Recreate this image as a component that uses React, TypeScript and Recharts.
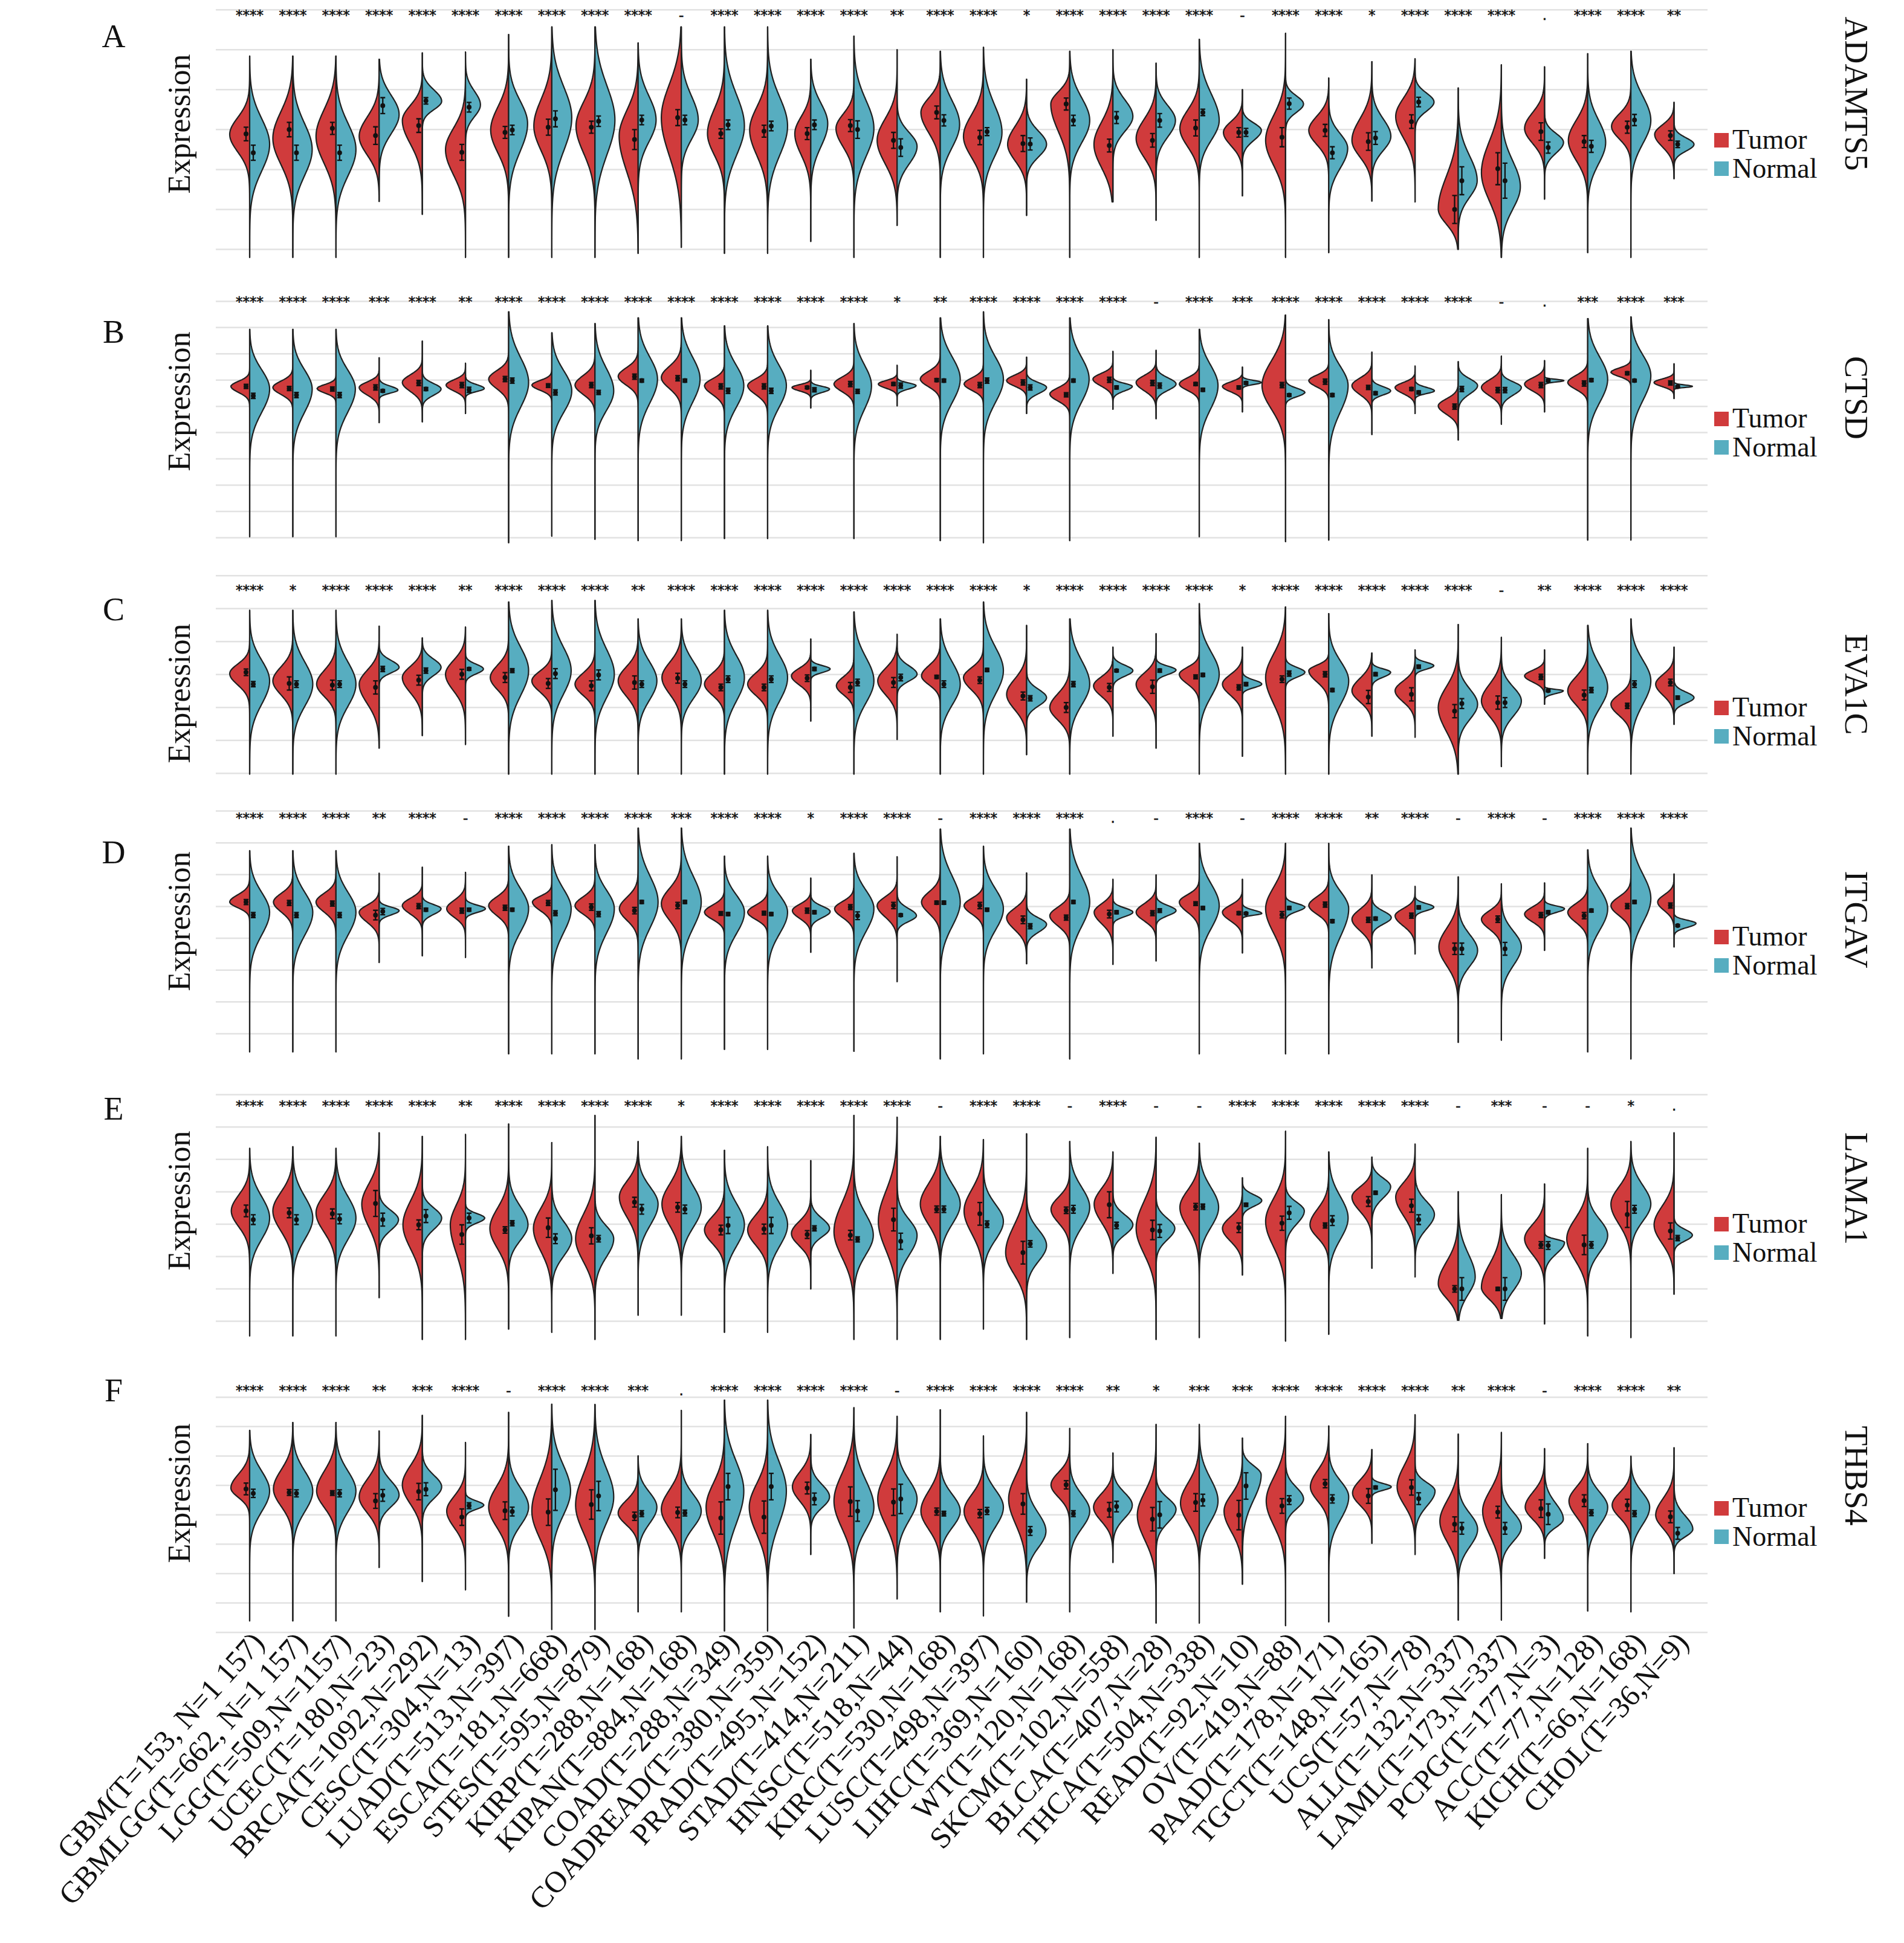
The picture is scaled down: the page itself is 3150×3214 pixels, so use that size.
import React from "react";
import { ComposedChart, Bar, XAxis, YAxis, ReferenceLine } from "recharts";

const cancers = [
  "GBM(T=153, N=1 157)", "GBMLGG(T=662, N=1 157)", "LGG(T=509,N=1157)", "UCEC(T=180,N=23)",
  "BRCA(T=1092,N=292)", "CESC(T=304,N=13)", "LUAD(T=513,N=397)", "ESCA(T=181,N=668)",
  "STES(T=595,N=879)", "KIRP(T=288,N=168)", "KIPAN(T=884,N=168)", "COAD(T=288,N=349)",
  "COADREAD(T=380,N=359)", "PRAD(T=495,N=152)", "STAD(T=414,N=211)", "HNSC(T=518,N=44)",
  "KIRC(T=530,N=168)", "LUSC(T=498,N=397)", "LIHC(T=369,N=160)", "WT(T=120,N=168)",
  "SKCM(T=102,N=558)", "BLCA(T=407,N=28)", "THCA(T=504,N=338)", "READ(T=92,N=10)",
  "OV(T=419,N=88)", "PAAD(T=178,N=171)", "TGCT(T=148,N=165)", "UCS(T=57,N=78)",
  "ALL(T=132,N=337)", "LAML(T=173,N=337)", "PCPG(T=177,N=3)", "ACC(T=77,N=128)",
  "KICH(T=66,N=168)", "CHOL(T=36,N=9)",
];

// range = [min, max] of each violin; halves = [bulge bottom, mode, bulge top, relative width, mean, error]

// ADAMTS5
const adamts5Sig = ["****","****","****","****","****","****","****","****","****","****","-","****","****","****","****","**","****","****","*","****","****","****","****","-","****","****","*","****","****","****",".","****","****","**"];
const adamts5Range = [
  [-0.2,4.84],[-0.2,4.84],[-0.2,4.84],[1.2,4.76],[0.88,4.92],[-0.2,4.94],[-0.2,5.38],[-0.2,5.57],[-0.2,5.57],[-0.1,5.17],
  [0.05,5.57],[-0.1,5.57],[-0.1,5.57],[0.2,4.76],[-0.2,5.34],[0.6,5.0],[-0.2,4.96],[-0.2,5.06],[0.85,4.26],[-0.2,4.96],
  [1.19,5.0],[0.73,4.66],[-0.2,5.26],[1.34,4.0],[-0.2,5.41],[-0.08,4.29],[1.21,4.7],[1.19,4.77],[0,4.04],[-0.2,4.62],
  [1.26,4.57],[-0.08,4.9],[-0.2,4.96],[1.77,3.68],
];
const adamts5Tumor = [
  [1.82,2.88,3.9,1,2.89,0.17],[1.2,2.78,4.4,1,3.0,0.18],[1.2,2.83,4.45,1,3.03,0.15],[1.7,2.83,4.0,1,2.85,0.22],
  [1.8,3.23,4.14,1,3.1,0.17],[0.96,2.5,3.8,1,2.43,0.2],[1.6,2.99,4.39,0.9,2.93,0.15],[1.6,3.09,4.7,0.9,3.06,0.2],
  [1.44,3.09,4.55,0.95,3.06,0.15],[0.67,2.84,4.39,0.95,2.75,0.25],[0.98,3.3,5.32,1,3.3,0.2],[1.6,2.9,4.39,0.85,2.9,0.12],
  [1.44,2.99,4.39,0.9,2.96,0.15],[1.6,2.9,3.93,0.8,2.9,0.15],[1.9,3.03,3.9,0.9,3.1,0.15],[1.31,2.73,4.04,1,2.73,0.2],
  [2.2,3.43,4.3,0.97,3.43,0.16],[1.56,2.83,4.14,1,2.8,0.18],[1.62,2.63,3.74,0.95,2.65,0.2],[1.97,3.64,4.39,0.95,3.64,0.15],
  [1.21,2.63,3.99,0.95,2.6,0.16],[1.62,2.78,3.94,1,2.73,0.17],[1.92,3.03,4.14,0.97,3.04,0.2],[2.12,2.93,3.59,0.95,2.93,0.12],
  [1.21,2.73,4.24,1,2.81,0.24],[2.12,2.98,3.84,1,2.98,0.15],[1.72,2.73,4.04,1,2.7,0.22],[2.02,3.33,4.44,0.97,3.2,0.17],
  [0.1,1.01,2.98,1,1.0,0.35],[0.2,1.92,3.84,1,2.02,0.4],[2.12,3.03,3.99,1,2.95,0.22],[1.52,2.73,3.94,0.97,2.7,0.15],
  [2.32,3.08,3.84,0.97,3.06,0.15],[2.12,2.88,3.46,0.97,2.85,0.12],
];
const adamts5Normal = [
  [1.0,2.63,4.2,1,2.42,0.19],[0.9,2.5,4.1,0.97,2.42,0.19],[0.9,2.5,4.1,1,2.42,0.19],[2.2,3.38,4.55,1,3.6,0.2],
  [3.2,3.71,4.4,0.97,3.72,0.08],[2.9,3.62,4.45,0.75,3.56,0.12],[1.44,3.15,4.55,0.95,2.99,0.12],[1.29,3.3,5.17,1,3.27,0.2],
  [1.13,3.24,5.32,1,3.21,0.13],[1.91,3.24,4.7,0.9,3.24,0.12],[2.06,3.24,4.7,0.85,3.24,0.12],[1.29,3.09,5.01,1,3.12,0.12],
  [1.29,3.09,4.86,1,3.09,0.12],[1.75,3.15,4.39,0.85,3.12,0.12],[1.3,3.03,4.75,1,3.0,0.22],[1.5,2.58,3.43,1,2.55,0.22],
  [1.7,3.13,4.6,0.97,3.23,0.14],[1.46,2.93,4.6,0.93,2.95,0.1],[1.87,2.63,3.43,1,2.64,0.15],[1.87,3.23,4.6,1,3.23,0.13],
  [2.42,3.33,4.34,1,3.3,0.15],[2.22,3.23,4.14,0.97,3.23,0.17],[2.02,3.23,4.85,1,3.43,0.08],[2.37,2.98,3.43,0.95,2.93,0.1],
  [3.13,3.64,4.14,0.9,3.65,0.14],[1.31,2.53,3.43,0.95,2.42,0.15],[1.97,2.83,3.89,0.95,2.79,0.16],[3.13,3.69,4.24,0.95,3.69,0.12],
  [0.71,1.72,3.23,0.95,1.72,0.35],[0.2,1.57,3.13,0.95,1.72,0.44],[2.02,2.68,3.23,0.95,2.55,0.14],[1.36,2.68,4.04,0.9,2.58,0.15],
  [1.82,3.23,4.7,1,3.24,0.14],[2.22,2.63,3.03,1,2.63,0.08],
];

// CTSD
const ctsdSig = ["****","****","****","***","****","**","****","****","****","****","****","****","****","****","****","*","**","****","****","****","****","-","****","***","****","****","****","****","****","-",".","***","****","***"];
const ctsdRange = [
  [0.04,7.93],[0.04,7.93],[0.04,7.93],[4.38,6.85],[4.41,7.48],[4.73,6.64],[-0.19,8.6],[0.06,7.8],[-0.06,8.15],[-0.11,8.37],
  [-0.11,8.37],[-0.03,8.06],[-0.03,8.06],[4.94,6.37],[-0.03,8.15],[5.02,6.56],[-0.11,8.37],[-0.19,8.6],[4.73,6.87],[-0.11,8.37],
  [4.89,7.09],[4.53,7.13],[0.04,7.93],[4.79,6.49],[-0.15,8.47],[-0.09,8.3],[3.93,7.06],[4.73,6.53],[3.72,6.7],[4.32,6.91],
  [4.79,6.74],[-0.09,8.34],[-0.09,8.4],[5.3,6.62],
];
const ctsdTumor = [
  [5.21,5.76,6.23,0.94,5.76,0.08],[5.08,5.72,6.3,1,5.68,0.08],[5.27,5.68,6.04,0.95,5.66,0.08],[5.02,5.72,6.23,1,5.72,0.1],
  [5.08,5.91,6.62,1,5.89,0.1],[5.27,5.81,6.3,0.97,5.81,0.1],[5.15,6.04,6.81,1,6.04,0.1],[5.34,5.81,6.23,1,5.79,0.07],
  [4.96,5.81,6.68,1,5.81,0.1],[5.34,6.14,6.93,1,6.13,0.1],[5.08,6.1,7.13,1,6.07,0.1],[4.96,5.79,6.42,1,5.76,0.1],
  [4.96,5.79,6.42,1,5.76,0.1],[5.4,5.72,5.98,0.94,5.72,0.05],[5.15,5.85,6.49,1,5.85,0.1],[5.47,5.85,6.17,0.94,5.85,0.06],
  [5.34,6.04,6.74,1,6.0,0.06],[5.27,5.85,6.42,0.97,5.81,0.1],[5.47,5.98,6.49,1,5.91,0.1],[4.83,5.47,6.04,1,5.44,0.08],
  [5.4,6.04,6.55,1,6.01,0.1],[5.15,5.91,6.55,1,5.89,0.1],[5.27,5.85,6.42,1,5.85,0.06],[5.27,5.76,6.17,1,5.72,0.06],
  [3.61,5.79,8.08,1.18,5.81,0.1],[5.4,5.98,6.49,1,5.94,0.1],[4.96,5.79,6.49,1,5.72,0.08],[5.15,5.72,6.17,1,5.66,0.06],
  [4.25,5.02,5.66,1,4.99,0.1],[4.96,5.72,6.42,1,5.62,0.1],[5.21,5.85,6.42,1,5.81,0.1],[5.27,5.91,6.55,1,5.87,0.1],
  [5.91,6.3,6.68,1,6.26,0.06],[5.53,5.91,6.23,1,5.89,0.08],
];
const ctsdNormal = [
  [3.49,5.66,7.45,1,5.4,0.1],[3.49,5.66,7.45,0.97,5.43,0.1],[3.49,5.66,7.45,0.97,5.43,0.1],[5.34,5.62,5.98,0.94,5.59,0.05],
  [5.08,5.66,6.17,0.94,5.66,0.06],[5.4,5.68,6.04,0.94,5.63,0.1],[3.61,5.91,8.21,1,5.98,0.1],[3.61,5.59,7.45,1,5.53,0.1],
  [3.74,5.59,7.7,0.94,5.53,0.08],[3.81,6.04,8.08,0.97,5.98,0.06],[3.87,6.04,8.08,0.94,5.98,0.06],[3.74,5.79,7.7,0.97,5.59,0.1],
  [3.74,5.79,7.7,0.94,5.59,0.1],[5.34,5.66,5.91,0.94,5.63,0.08],[3.61,5.79,7.7,0.88,5.57,0.08],[5.47,5.79,6.04,0.95,5.79,0.1],
  [3.87,6.04,8.08,1,5.98,0.06],[3.87,6.04,8.08,1,5.98,0.1],[5.15,5.72,6.17,1,5.72,0.1],[3.87,6.04,8.08,0.97,5.98,0.06],
  [5.34,5.76,6.04,0.97,5.72,0.06],[5.27,5.85,6.42,1,5.79,0.1],[3.61,5.79,7.7,0.94,5.63,0.06],[5.72,5.91,6.1,0.95,5.89,0.05],
  [5.15,5.53,5.91,0.97,5.43,0.05],[3.36,5.79,7.57,0.97,5.43,0.06],[5.21,5.59,5.98,0.94,5.5,0.06],[5.34,5.59,5.91,0.97,5.53,0.06],
  [5.02,5.79,6.42,0.97,5.66,0.1],[5.02,5.72,6.23,1,5.62,0.1],[5.85,5.98,6.1,0.97,5.98,0.04],[3.87,6.04,8.08,1,6.0,0.06],
  [3.87,6.17,8.08,1,5.98,0.05],[5.66,5.76,5.89,0.92,5.75,0.03],
];

// EVA1C
const eva1cSig = ["****","*","****","****","****","**","****","****","****","**","****","****","****","****","****","****","****","****","*","****","****","****","****","*","****","****","****","****","****","-","**","****","****","****"];
const eva1cRange = [
  [-0.02,4.95],[-0.02,4.95],[-0.02,4.95],[0.77,4.47],[1.15,4.11],[0.88,4.44],[-0.02,5.2],[-0.02,5.25],[-0.02,5.25],[-0.02,4.69],
  [-0.02,4.69],[-0.02,4.95],[-0.02,4.95],[1.59,4.08],[-0.02,4.9],[1.03,4.22],[-0.02,4.69],[-0.02,5.2],[0.57,4.49],[-0.02,4.69],
  [1.13,3.83],[0.77,4.24],[-0.02,5.15],[0.52,3.83],[-0.02,5.05],[-0.02,4.85],[1.13,3.65],[1.1,3.75],[-0.02,4.52],[0.21,4.13],
  [2.1,3.75],[-0.02,4.49],[-0.02,4.69],[1.49,3.83],
];
const eva1cTumor = [
  [2.2,3.03,3.73,1,3.07,0.1],[1.79,2.81,3.83,1,2.73,0.2],[1.79,2.71,3.73,0.97,2.68,0.15],[1.28,2.71,3.73,1,2.61,0.2],
  [1.79,2.91,3.73,1,2.83,0.15],[1.79,3.01,4.03,1,3.01,0.15],[2.0,2.91,3.83,0.92,2.91,0.15],[2.0,2.81,3.52,1,2.73,0.15],
  [1.89,2.71,3.52,1,2.66,0.15],[1.69,2.81,3.83,1,2.76,0.2],[1.69,2.91,4.03,0.97,2.89,0.15],[1.89,2.71,3.52,1,2.61,0.1],
  [1.89,2.71,3.52,1,2.61,0.1],[2.3,2.96,3.52,0.97,2.89,0.1],[2.0,2.66,3.32,0.88,2.61,0.15],[1.79,2.81,3.73,0.97,2.76,0.15],
  [2.3,2.96,3.73,0.94,2.93,0.05],[2.0,2.91,3.63,1,2.83,0.1],[1.28,2.4,3.52,1,2.35,0.12],[1.08,2.0,3.01,1,2.0,0.15],
  [1.89,2.66,3.32,0.97,2.61,0.12],[1.69,2.71,3.52,1,2.63,0.2],[2.3,3.01,3.52,1,2.93,0.06],[1.89,2.71,3.42,1,2.61,0.08],
  [0.98,2.91,4.64,1,2.86,0.1],[2.3,3.12,3.52,1,3.01,0.08],[1.69,2.51,3.42,1,2.32,0.2],[1.69,2.51,3.22,1,2.4,0.2],
  [0.26,2.0,3.52,1,1.89,0.2],[1.08,2.2,3.42,1,2.15,0.2],[2.51,2.96,3.37,1,2.93,0.08],[1.49,2.51,3.52,1,2.38,0.15],
  [1.28,2.1,2.81,1,2.05,0.08],[1.89,2.71,3.42,0.92,2.76,0.1],
];
const eva1cNormal = [
  [1.08,2.81,4.34,1,2.71,0.08],[1.08,2.71,4.34,1,2.71,0.1],[1.08,2.71,4.34,1,2.71,0.1],[2.81,3.22,3.73,1,3.17,0.08],
  [2.61,3.22,3.83,0.94,3.12,0.08],[2.81,3.17,3.52,0.9,3.17,0.04],[1.28,3.12,4.85,1,3.12,0.06],[1.38,3.12,4.85,0.97,3.03,0.15],
  [1.28,3.01,4.85,0.97,2.99,0.15],[1.38,2.81,4.24,0.94,2.71,0.1],[1.49,2.81,4.24,1,2.71,0.1],[1.18,2.91,4.54,1,2.86,0.1],
  [1.18,2.91,4.54,1,2.86,0.1],[2.91,3.17,3.42,0.97,3.17,0.05],[1.18,2.81,4.54,1,2.76,0.1],[2.51,3.01,3.63,1,2.91,0.1],
  [1.18,2.71,4.34,1,2.71,0.1],[1.38,3.12,4.85,1,3.14,0.05],[1.69,2.3,2.91,1,2.28,0.08],[1.18,2.71,4.44,1,2.71,0.08],
  [2.71,3.12,3.52,1,3.12,0.04],[2.81,3.14,3.42,1,3.12,0.05],[1.38,3.01,4.64,1,2.99,0.05],[2.45,2.71,3.01,0.97,2.71,0.05],
  [2.71,3.07,3.42,0.97,3.03,0.08],[1.08,2.81,4.24,1,2.53,0.05],[2.71,3.07,3.32,0.94,3.01,0.05],[3.01,3.27,3.52,0.94,3.24,0.05],
  [0.98,2.1,3.22,0.97,2.12,0.15],[1.08,2.2,3.22,1,2.15,0.15],[2.3,2.51,2.61,0.94,2.51,0.03],[1.08,2.61,4.24,1,2.53,0.08],
  [1.08,2.81,4.34,1,2.71,0.1],[1.89,2.3,2.71,1,2.3,0.05],
];

// ITGAV
const itgavSig = ["****","****","****","**","****","-","****","****","****","****","***","****","****","*","****","****","-","****","****","****",".","-","****","-","****","****","**","****","-","****","-","****","****","****"];
const itgavRange = [
  [-0.57,5.75],[-0.57,5.75],[-0.57,5.75],[2.24,5.04],[2.45,5.23],[2.4,5.07],[-0.63,5.89],[-0.63,5.94],[-0.63,5.94],[-0.79,6.46],
  [-0.79,6.46],[-0.49,5.58],[-0.49,5.58],[2.56,4.89],[-0.55,5.67],[1.64,5.56],[-0.79,6.43],[-0.63,5.89],[2.2,5.05],[-0.79,6.43],
  [2.18,4.85],[2.29,4.99],[-0.63,5.98],[2.54,4.85],[-0.63,5.98],[-0.63,5.98],[2.07,4.99],[2.51,4.63],[-0.27,4.93],[-0.2,4.71],
  [2.62,4.74],[-0.57,5.78],[-0.79,6.46],[2.73,5.02],
];
const itgavTumor = [
  [3.71,4.14,4.69,1,4.14,0.08],[3.38,4.14,4.8,0.97,4.11,0.08],[3.38,4.14,4.8,1,4.09,0.08],[3.05,3.82,4.36,1,3.73,0.15],
  [3.38,4.03,4.58,1,4.01,0.08],[3.27,3.93,4.58,0.94,3.87,0.08],[3.27,4.03,4.69,1,3.96,0.08],[3.49,4.14,4.58,0.97,4.11,0.08],
  [3.38,4.03,4.69,1,3.98,0.1],[3.05,3.93,4.8,0.94,3.87,0.1],[2.84,4.09,5.23,1,4.03,0.1],[3.27,3.82,4.36,1,3.78,0.06],
  [3.27,3.82,4.36,1,3.79,0.06],[3.27,3.87,4.36,0.92,3.87,0.08],[3.27,3.93,4.47,0.97,3.98,0.08],[3.16,4.03,4.69,1,4.03,0.1],
  [3.27,4.14,4.91,0.94,4.12,0.05],[3.38,4.03,4.58,0.97,4.03,0.1],[2.73,3.65,4.36,1,3.58,0.12],[2.94,3.71,4.36,1,3.65,0.08],
  [2.94,3.82,4.47,0.94,3.76,0.12],[3.16,3.82,4.47,1,3.79,0.08],[3.38,4.14,4.69,1,4.09,0.06],[3.16,3.82,4.36,1,3.79,0.05],
  [2.07,3.93,5.56,1,3.74,0.1],[3.38,4.03,4.69,1,4.06,0.08],[2.73,3.6,4.36,1,3.58,0.08],[2.94,3.71,4.25,1,3.71,0.08],
  [1.31,2.73,4.14,0.97,2.67,0.18],[2.84,3.6,4.25,1,3.6,0.1],[3.16,3.76,4.31,1,3.73,0.08],[3.05,3.82,4.47,1,3.71,0.1],
  [3.27,4.03,4.69,1,4.01,0.08],[3.49,4.14,4.69,0.82,4.03,0.08],
];
const itgavNormal = [
  [2.07,3.82,5.34,1,3.73,0.08],[2.07,3.82,5.34,1,3.73,0.08],[2.07,3.82,5.34,1,3.73,0.08],[3.54,3.87,4.14,1,3.84,0.1],
  [3.49,3.93,4.25,0.94,3.9,0.05],[3.65,3.93,4.2,1,3.9,0.05],[2.18,3.93,5.45,1,3.9,0.05],[2.07,3.93,5.45,0.97,3.79,0.08],
  [2.07,3.93,5.34,0.97,3.76,0.08],[2.18,4.14,6.11,1,4.14,0.05],[2.18,4.14,6.11,1,4.14,0.05],[2.18,3.82,5.13,1,3.76,0.05],
  [2.18,3.82,5.13,1,3.76,0.05],[3.38,3.84,4.25,0.97,3.82,0.05],[2.18,3.93,5.34,1,3.71,0.12],[3.27,3.71,4.25,0.97,3.73,0.04],
  [2.29,4.14,6.11,1,4.12,0.05],[2.29,3.93,5.45,1,3.9,0.05],[2.84,3.44,3.93,1,3.38,0.08],[2.29,4.14,6.11,1,4.14,0.05],
  [3.49,3.82,4.14,1,3.82,0.05],[3.49,3.87,4.25,1,3.87,0.06],[2.29,4.03,5.67,1,3.95,0.05],[3.65,3.78,4.03,0.97,3.78,0.03],
  [3.65,3.98,4.25,0.97,3.95,0.05],[1.85,3.93,5.23,1,3.54,0.05],[3.16,3.65,4.14,0.97,3.62,0.05],[3.71,3.98,4.25,0.94,3.97,0.05],
  [1.42,2.62,3.82,0.97,2.67,0.18],[1.31,2.73,3.93,1,2.67,0.2],[3.65,3.93,4.14,1,3.82,0.05],[2.29,3.93,5.45,1,3.87,0.05],
  [2.4,4.25,6.11,1,4.14,0.05],[3.16,3.47,3.71,1.1,3.4,0.03],
];

// LAMA1
const lama1Sig = ["****","****","****","****","****","**","****","****","****","****","*","****","****","****","****","****","-","****","****","-","****","-","-","****","****","****","****","****","-","***","-","-","*","."];
const lama1Range = [
  [-0.45,5.34],[-0.45,5.39],[-0.45,5.34],[0.73,5.82],[-0.56,5.71],[-0.56,5.77],[-0.24,6.09],[-0.34,5.52],[-0.56,6.36],[0.19,5.55],
  [0.19,5.71],[-0.34,5.28],[-0.34,5.39],[1.0,4.96],[-0.56,6.36],[-0.56,6.3],[-0.56,5.71],[-0.24,5.61],[-0.56,5.79],[-0.5,5.55],
  [1.48,5.23],[-0.56,5.68],[-0.5,5.5],[1.43,4.43],[-0.61,5.87],[-0.4,5.23],[1.64,5.07],[1.37,5.47],[0.03,4.0],[0.09,3.91],
  [-0.08,4.24],[-0.45,5.34],[-0.5,5.55],[0.84,5.82],
];
const lama1Tumor = [
  [2.23,3.41,4.59,0.92,3.41,0.18],[1.91,3.41,4.8,1,3.35,0.15],[1.91,3.35,4.69,1,3.32,0.15],[1.91,3.62,5.12,0.87,3.64,0.4],
  [1.16,2.98,4.8,0.97,2.98,0.15],[0.84,2.98,4.48,0.76,2.68,0.3],[1.37,2.87,4.37,0.94,2.82,0.1],[1.16,2.87,4.37,0.92,2.89,0.3],
  [0.84,2.55,4.37,0.97,2.64,0.25],[2.34,3.84,5.02,0.94,3.68,0.15],[2.02,3.62,5.12,0.97,3.52,0.15],[1.8,2.82,3.84,1,2.82,0.15],
  [1.69,2.82,3.94,1,2.85,0.15],[1.8,2.71,3.62,0.97,2.68,0.12],[0.84,2.77,4.91,1,2.66,0.15],[0.94,3.09,5.34,0.94,3.14,0.35],
  [2.12,3.62,5.12,1,3.46,0.1],[1.69,3.41,5.02,0.97,3.32,0.35],[0.51,2.12,4.16,1.05,2.12,0.35],[2.44,3.46,4.37,0.94,3.43,0.1],
  [2.23,3.62,4.8,0.94,3.6,0.4],[0.94,2.87,4.91,1,2.82,0.3],[2.02,3.52,4.8,0.97,3.54,0.1],[1.91,2.87,3.73,1,2.89,0.15],
  [1.16,3.09,4.8,1,3.03,0.22],[2.02,2.98,4.16,0.94,2.96,0.08],[2.77,3.84,4.59,1,3.7,0.15],[2.44,3.84,4.91,0.97,3.57,0.2],
  [0.09,1.16,2.77,1,1.0,0.1],[0.14,1.05,2.77,1,1.0,0.05],[1.37,2.55,3.62,1,2.36,0.1],[0.94,2.55,4.05,1.05,2.36,0.3],
  [2.12,3.62,4.91,1,3.3,0.4],[1.59,2.98,4.37,1,2.79,0.25],
];
const lama1Normal = [
  [1.59,3.19,4.8,1,3.14,0.15],[1.59,3.19,4.8,1,3.14,0.15],[1.59,3.19,4.8,1,3.16,0.15],[2.34,3.14,3.84,0.97,3.14,0.2],
  [2.34,3.19,3.94,0.97,3.25,0.2],[2.82,3.19,3.52,0.97,3.19,0.15],[1.8,2.98,4.37,0.97,3.03,0.08],[1.26,2.55,3.84,1,2.55,0.15],
  [1.16,2.55,3.52,0.94,2.55,0.1],[2.02,3.62,4.91,1,3.46,0.15],[2.02,3.52,5.12,1,3.46,0.13],[1.37,2.98,4.59,1,2.96,0.25],
  [1.37,2.98,4.59,1,2.96,0.25],[2.23,2.87,3.62,0.94,2.87,0.08],[1.16,2.66,4.27,0.97,2.53,0.08],[1.16,2.66,3.84,1,2.47,0.25],
  [2.12,3.62,5.12,1,3.46,0.1],[1.69,3.09,4.37,1,3.0,0.1],[1.16,2.34,3.52,1,2.39,0.1],[2.02,3.52,5.02,1,3.46,0.12],
  [2.23,2.98,3.73,1,2.96,0.1],[2.02,2.87,3.62,0.94,2.79,0.2],[2.02,3.52,5.02,0.97,3.54,0.08],[3.3,3.73,4.16,0.97,3.6,0.05],
  [2.44,3.41,4.05,0.94,3.35,0.2],[1.59,3.19,4.8,0.97,3.11,0.15],[3.3,4.16,4.8,0.94,3.97,0.05],[2.23,3.3,4.27,0.97,3.14,0.15],
  [0.09,1.37,3.09,0.85,1.0,0.35],[0.19,1.48,2.87,1,1.0,0.35],[1.59,2.44,2.66,1,2.34,0.12],[1.37,2.66,3.84,1,2.36,0.1],
  [2.34,3.62,5.02,1,3.46,0.12],[2.23,2.66,3.09,0.92,2.57,0.08],
];

// THBS4
const thbs4Sig = ["****","****","****","**","***","****","-","****","****","***",".","****","****","****","****","-","****","****","****","****","**","*","***","***","****","****","****","****","**","****","-","****","****","**"];
const thbs4Range = [
  [0.39,6.87],[0.39,7.14],[0.39,7.14],[2.21,6.85],[1.73,7.38],[1.45,6.46],[0.55,7.48],[0.1,7.76],[0.1,7.75],[0.7,6.0],
  [0.7,7.55],[0.05,7.9],[0.05,7.9],[2.65,6.73],[0.15,7.64],[1.14,7.35],[0.7,7.57],[0.56,6.68],[1.03,7.48],[0.7,6.94],
  [2.38,6.1],[0.32,7.07],[0.32,7.07],[1.64,6.61],[0.23,7.35],[0.36,7.02],[3.03,6.22],[2.65,7.4],[0.42,6.74],[0.42,6.8],
  [2.52,6.25],[0.73,6.42],[0.7,5.99],[2.0,6.28],
];
const thbs4Tumor = [
  [4.13,4.91,6.05,0.94,4.88,0.2],[3.44,4.88,6.46,0.97,4.76,0.1],[3.44,4.81,6.46,0.97,4.74,0.08],[3.3,4.61,6.05,1,4.47,0.25],
  [3.44,5.02,6.59,1,4.79,0.28],[2.76,4.13,5.36,0.94,3.92,0.28],[2.62,4.26,5.98,1,4.14,0.3],[1.86,4.13,6.73,1,4.09,0.45],
  [2.07,4.33,6.87,0.97,4.35,0.5],[3.1,4.06,5.09,1,3.95,0.14],[2.62,4.19,5.77,1,4.08,0.18],[2.07,4.26,6.25,0.92,3.89,0.55],
  [2.07,4.26,6.18,0.92,3.92,0.55],[3.78,4.95,6.18,0.92,4.91,0.2],[2.21,4.47,6.73,1,4.45,0.5],[2.41,4.54,6.59,0.97,4.43,0.45],
  [2.62,4.13,5.77,0.97,4.11,0.12],[2.62,4.13,5.5,0.97,4.04,0.14],[2.41,4.54,6.46,0.9,4.37,0.35],[3.99,5.02,6.05,0.94,5.02,0.14],
  [3.1,4.26,5.36,0.97,4.17,0.25],[1.93,3.99,5.91,0.94,3.85,0.4],[2.76,4.4,6.05,0.94,4.42,0.3],[2.41,4.13,5.5,0.92,3.99,0.5],
  [2.41,4.47,6.46,0.97,4.3,0.25],[3.78,4.95,6.32,0.92,5.06,0.14],[3.71,4.74,5.84,0.97,4.64,0.25],[3.44,4.95,6.73,0.9,4.93,0.26],
  [2.07,3.78,5.5,0.92,3.68,0.25],[2.07,4.13,5.84,0.94,4.09,0.2],[3.24,4.26,5.5,0.97,4.21,0.3],[3.17,4.47,5.63,0.94,4.48,0.2],
  [3.3,4.33,5.36,0.94,4.33,0.2],[2.89,3.99,5.36,0.92,3.93,0.2],
];
const thbs4Normal = [
  [3.1,4.81,6.46,1,4.73,0.14],[3.1,4.81,6.46,1,4.73,0.12],[3.1,4.81,6.46,1,4.73,0.12],[3.71,4.67,5.84,1,4.66,0.2],
  [3.99,4.95,5.91,0.97,4.87,0.22],[3.99,4.33,4.67,0.92,4.31,0.1],[2.76,4.26,5.84,1,4.11,0.15],[2.76,4.81,7.0,0.94,4.85,0.7],
  [2.41,4.61,7.0,0.94,4.64,0.5],[2.89,4.26,5.5,0.94,4.04,0.1],[2.76,4.13,5.5,1,4.06,0.1],[2.07,4.81,7.28,0.97,4.96,0.45],
  [2.07,4.81,7.28,0.94,4.96,0.45],[3.71,4.61,5.63,0.94,4.54,0.2],[2.41,4.26,6.46,1,4.13,0.35],[2.76,4.54,6.11,1,4.54,0.5],
  [2.76,4.13,5.5,1,4.04,0.08],[2.62,4.26,5.7,1,4.13,0.12],[2.07,3.44,4.95,0.97,3.45,0.15],[2.69,4.13,5.5,1,4.04,0.1],
  [3.24,4.33,5.36,0.97,4.28,0.18],[3.1,4.19,5.09,1,4.0,0.45],[2.76,4.47,6.32,0.94,4.5,0.2],[3.3,5.36,6.11,0.94,4.98,0.45],
  [3.71,4.54,5.5,0.9,4.5,0.15],[2.76,4.61,5.91,1,4.54,0.14],[4.68,4.95,5.22,0.97,4.93,0.05],[3.58,4.81,5.5,1,4.55,0.2],
  [2.07,3.51,4.81,0.97,3.54,0.2],[2.41,3.58,4.81,1,3.54,0.2],[3.17,3.85,5.15,0.94,4.02,0.35],[2.76,4.26,5.5,1,4.07,0.1],
  [2.76,4.26,5.5,0.94,4.04,0.1],[2.89,3.51,4.61,0.94,3.37,0.2],
];

const RED = "#d03b3c";
const TEAL = "#57adc0";
const INK = "#202020";
const SERIF = '"Liberation Serif", "Times New Roman", serif';
const HALF_W = 33;

const panels = [
  { gene: "ADAMTS5", letter: "A", sig: adamts5Sig, range: adamts5Range, tumor: adamts5Tumor, normal: adamts5Normal,
    base: 413, step: 66.05, lines: 7, lo: -0.45, hi: 6.2, star: 5.93, labelY: 205, geneY: 155, letterY: 60, legendY: 232 },
  { gene: "CTSD", letter: "B", sig: ctsdSig, range: ctsdRange, tumor: ctsdTumor, normal: ctsdNormal,
    base: 889, step: 43.45, lines: 10, lo: -0.5, hi: 9.4, star: 9.07, labelY: 664, geneY: 658, letterY: 549, legendY: 693 },
  { gene: "EVA1C", letter: "C", sig: eva1cSig, range: eva1cRange, tumor: eva1cTumor, normal: eva1cNormal,
    base: 1279, step: 54.5, lines: 7, lo: -0.4, hi: 6.3, star: 5.64, labelY: 1147, geneY: 1132, letterY: 1008, legendY: 1171 },
  { gene: "ITGAV", letter: "D", sig: itgavSig, range: itgavRange, tumor: itgavTumor, normal: itgavNormal,
    base: 1710.4, step: 52.64, lines: 8, lo: -1.0, hi: 7.2, star: 6.85, labelY: 1524, geneY: 1521, letterY: 1410, legendY: 1550 },
  { gene: "LAMA1", letter: "E", sig: lama1Sig, range: lama1Range, tumor: lama1Tumor, normal: lama1Normal,
    base: 2185.7, step: 53.56, lines: 8, lo: -0.8, hi: 7.2, star: 6.73, labelY: 1986, geneY: 1966, letterY: 1834, legendY: 2025 },
  { gene: "THBS4", letter: "F", sig: thbs4Sig, range: thbs4Range, tumor: thbs4Tumor, normal: thbs4Normal,
    base: 2700.7, step: 48.63, lines: 9, lo: -0.3, hi: 8.6, star: 8.31, labelY: 2470, geneY: 2441, letterY: 2300, legendY: 2495 },
];

function halfPath(cx, dir, p, lo, hi, py) {
  const [bot, mode, top, w] = p;
  const vals = [];
  const n = 140;
  for (let k = 0; k <= n; k++) vals.push(hi - ((hi - lo) * k) / n);
  if (mode < hi && mode > lo) vals.push(mode);
  vals.sort((a, b) => b - a);
  let d = `M${cx.toFixed(2)},${py(hi).toFixed(2)}`;
  for (const v of vals) {
    const t = v >= mode ? (v - mode) / Math.max(top - mode, 0.03) : (mode - v) / Math.max(mode - bot, 0.03);
    const half = w * HALF_W * Math.exp(-3 * t * t);
    d += ` L${(cx + dir * half).toFixed(2)},${py(v).toFixed(2)}`;
  }
  d += ` L${cx.toFixed(2)},${py(lo).toFixed(2)} Z`;
  return d;
}

function makeViolin(panel) {
  return (props) => {
    const { x, y, width, height, payload } = props;
    if (!payload || !payload.range) return null;
    const [lo, hi] = payload.range;
    const cx = x + width / 2;
    const py = (v) => y + ((hi - v) / (hi - lo)) * height;
    const halves = [
      { p: payload.tumor, dir: -1, fill: RED },
      { p: payload.normal, dir: 1, fill: TEAL },
    ];
    return (
      <g>
        {halves.map((h) => (
          <path key={h.dir} d={halfPath(cx, h.dir, h.p, lo, hi, py)} fill={h.fill} stroke={INK} strokeWidth={2.2} strokeLinejoin="round" />
        ))}
        {halves.map((h) => {
          const ex = cx + h.dir * 6;
          const m = h.p[4];
          const e = h.p[5];
          return (
            <g key={"e" + h.dir} stroke="#111" strokeWidth={2.3}>
              <line x1={ex} x2={ex} y1={py(m + e)} y2={py(m - e)} />
              <line x1={ex - 4} x2={ex + 4} y1={py(m + e)} y2={py(m + e)} />
              <line x1={ex - 4} x2={ex + 4} y1={py(m - e)} y2={py(m - e)} />
              <circle cx={ex} cy={py(m)} r={4} fill="#111" stroke="none" />
            </g>
          );
        })}
        <text
          x={cx}
          y={py(panel.star) + 12}
          textAnchor="middle"
          fontSize={23}
          fontFamily='"DejaVu Sans", sans-serif'
          fill="#111"
          stroke="#111"
          strokeWidth={0.6}
        >
          {payload.sig}
        </text>
      </g>
    );
  };
}

const CancerTick = (props) => {
  const { x, y, payload } = props;
  const ty = y - 22;
  return (
    <text x={x} y={ty} dy={36} textAnchor="end" transform={`rotate(-48, ${x}, ${ty})`} fontSize={50} fontFamily={SERIF} fill="#111">
      {payload.value}
    </text>
  );
};

function Panel({ panel, last }) {
  const rows = cancers.map((name, i) => ({
    name,
    range: panel.range[i],
    tumor: panel.tumor[i],
    normal: panel.normal[i],
    sig: panel.sig[i],
  }));
  const plotH = (panel.hi - panel.lo) * panel.step;
  const top = panel.base - panel.hi * panel.step;
  const axisH = last ? 3214 - (top + plotH) : 0;
  const grid = Array.from({ length: panel.lines }, (_, k) => k);
  return (
    <div style={{ position: "absolute", left: 0, top }}>
      <ComposedChart width={3150} height={plotH + axisH} data={rows} margin={{ top: 0, right: 325, bottom: 0, left: 357 }}>
        <XAxis
          dataKey="name"
          hide={!last}
          height={last ? axisH : 0}
          padding={{ left: 20, right: 20 }}
          axisLine={false}
          tickLine={false}
          tickSize={0}
          interval={0}
          tick={(p) => <CancerTick {...p} />}
        />
        <YAxis type="number" domain={[panel.lo, panel.hi]} hide allowDataOverflow />
        {grid.map((g) => (
          <ReferenceLine key={g} y={g} stroke="#e2e2e2" strokeWidth={2.5} zIndex={-50} />
        ))}
        <Bar dataKey="range" barSize={20} isAnimationActive={false} shape={makeViolin(panel)} />
      </ComposedChart>
    </div>
  );
}

export default function App() {
  return (
    <div style={{ position: "relative", width: 3150, height: 3214, background: "#fff", overflow: "hidden" }}>
      <style>{"body{margin:0}"}</style>
      {panels.map((p, i) => (
        <Panel key={p.gene} panel={p} last={i === panels.length - 1} />
      ))}
      <svg width={3150} height={3214} style={{ position: "absolute", left: 0, top: 0, pointerEvents: "none" }}>
        {panels.map((p) => (
          <g key={p.gene} fontFamily={SERIF} fill="#111">
            <text x={188} y={p.letterY} fontSize={54} textAnchor="middle" dominantBaseline="central">{p.letter}</text>
            <text x={296} y={p.labelY} fontSize={52} textAnchor="middle" dominantBaseline="central" transform={`rotate(-90, 296, ${p.labelY})`}>
              Expression
            </text>
            <text x={3071} y={p.geneY} fontSize={54} textAnchor="middle" dominantBaseline="central" transform={`rotate(90, 3071, ${p.geneY})`}>
              {p.gene}
            </text>
            <rect x={2836} y={p.legendY - 12} width={24} height={24} fill={RED} />
            <rect x={2836} y={p.legendY + 35} width={24} height={24} fill={TEAL} />
            <text x={2866} y={p.legendY + 14} fontSize={46}>Tumor</text>
            <text x={2866} y={p.legendY + 62} fontSize={46}>Normal</text>
          </g>
        ))}
      </svg>
    </div>
  );
}
